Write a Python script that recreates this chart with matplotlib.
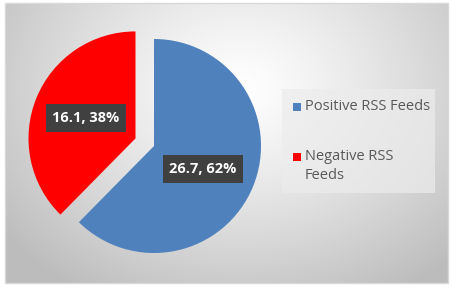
import numpy as np
import matplotlib.pyplot as plt
from matplotlib.patches import Rectangle

# === Данные ===
labels = ['Positive RSS Feeds', 'Negative RSS\nFeeds']
values = [26.7, 16.1]
percents = [62, 38]
colors = ['#4f81bd', '#ff0000']

W, H = 453, 288
fig = plt.figure(figsize=(W / 100, H / 100), dpi=100)
fig.patch.set_facecolor('white')
ax = fig.add_axes([0, 0, 1, 1])

# === Фон: радиальный градиент ===
x0, x1, y0, y1 = 5, 448, 5, 285
gx, gy = np.meshgrid(np.linspace(x0, x1, 300), np.linspace(y1, y0, 200))
d = np.sqrt((gx - 240) ** 2 + ((gy - 200) / 0.8) ** 2)
d = np.clip(d / 300, 0, 1)
shade = 1.0 - 0.26 * d ** 1.2
img = np.dstack([shade, shade, shade])
ax.imshow(img, extent=(x0, x1, y0, y1), zorder=0, interpolation='bilinear')
ax.add_patch(Rectangle((x0, y0), x1 - x0, y1 - y0, fill=False,
                       edgecolor='#d9d9d9', linewidth=1.0, zorder=1))

# === Круговая диаграмма ===
# explode задаётся в единицах данных (пиксели)
ax.pie(values, colors=colors, startangle=90, counterclock=False,
       center=(154, 142), radius=107, explode=[0, 20],
       wedgeprops=dict(linewidth=0), frame=True)
ax.set_xlim(0, W)
ax.set_ylim(0, H)
ax.set_aspect('equal')
ax.axis('off')

# === Подписи ===
box = dict(boxstyle='square,pad=0.45', facecolor='#404040', edgecolor='none')
ax.text(203, H - 169, f'{values[0]}, {percents[0]}%', color='white',
        fontsize=10.5, fontweight='bold', family='Open Sans',
        ha='center', va='center', bbox=box, zorder=5)
ax.text(86, H - 118, f'{values[1]}, {percents[1]}%', color='white',
        fontsize=10.5, fontweight='bold', family='Open Sans',
        ha='center', va='center', bbox=box, zorder=5)

# === Легенда ===
ax.add_patch(Rectangle((282, H - 193), 153, 104, facecolor='#ececec',
                       edgecolor='none', alpha=0.7, zorder=2))
for i, (lab, col) in enumerate(zip(labels, colors)):
    ty = H - 107 - 50 * i
    ax.add_patch(Rectangle((293, ty - 4), 8, 8, facecolor=col, zorder=3))
    if '\n' in lab:
        ax.text(305, ty + 8, lab, color='#595959', fontsize=10.5, family='Open Sans',
                ha='left', va='top', linespacing=1.4, zorder=3)
    else:
        ax.text(305, ty, lab, color='#595959', fontsize=10.5, family='Open Sans',
                ha='left', va='center', zorder=3)

fig.savefig('out.png', dpi=100)
